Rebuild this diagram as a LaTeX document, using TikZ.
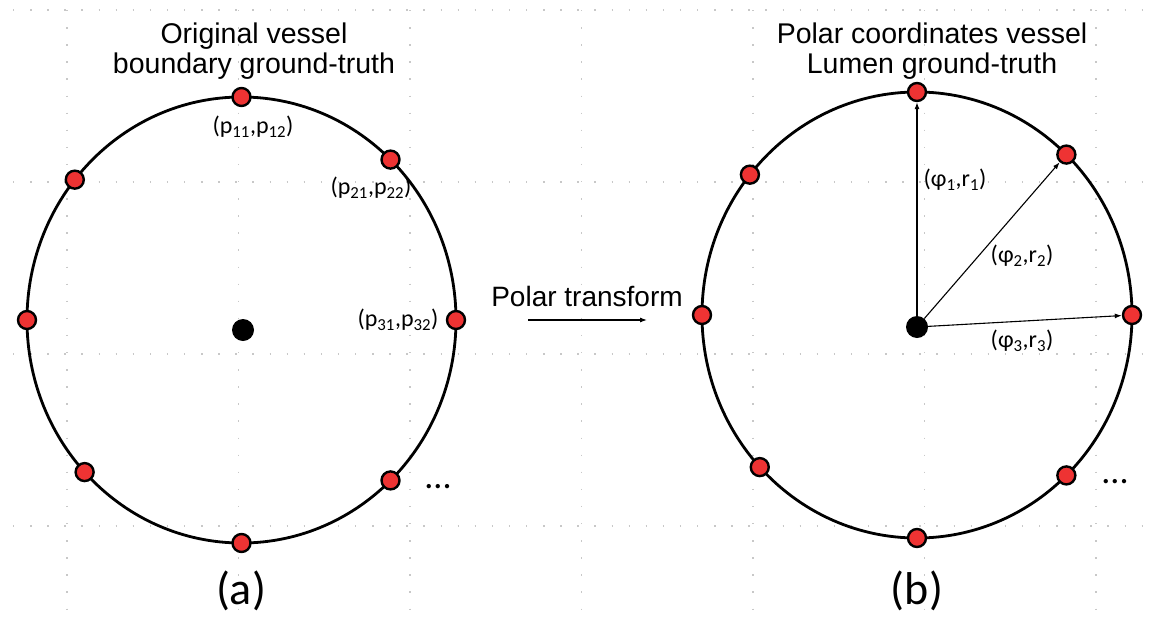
\documentclass[tikz,border=0pt]{standalone}
\usepackage{fontspec}
\setmainfont{Liberation Sans}
\newfontfamily\lblfont{Carlito}
\usetikzlibrary{arrows.meta}
\definecolor{ptred}{HTML}{EE3333}
\definecolor{gridgrey}{HTML}{C8C8C8}

\begin{document}
\begin{tikzpicture}[x=1pt,y=-1pt,
    >={Latex[length=7pt,width=5pt]},
    rim/.style={draw=black,line width=2.8pt},
    pt/.style={circle,draw=black,line width=2.4pt,fill=ptred,minimum size=18pt,inner sep=0pt},
    ctr/.style={circle,fill=black,minimum size=22pt,inner sep=0pt},
    ttl/.style={font=\fontsize{28.5}{30}\selectfont,align=center,inner sep=0pt,anchor=north},
    lbl/.style={font=\lblfont\fontsize{24}{26}\selectfont,inner sep=0pt},
    tag/.style={font=\lblfont\fontsize{46}{50}\selectfont,inner sep=0pt},
    grd/.style={gridgrey,line width=1.4pt,dash pattern=on 1.4pt off 15.7pt}]

  \fill[white] (0,0) rectangle (1153,616);
  \useasboundingbox (0,0) rectangle (1153,616);

  % ---------------- faint dotted grid behind everything
  \foreach \gx in {67,238.5,410,581.5,753,924.5,1096}
    \draw[grd] (\gx,10) -- (\gx,616);
  \foreach \gy in {10,182,354,526}
    \draw[grd] (13,\gy) -- (1153,\gy);

  % ---------------- left panel: boundary points
  \node[ttl] (ta) at (254,22.6) {Original vessel\\boundary ground-truth};
  \draw[rim] (241.5,320) ellipse [x radius=214.5, y radius=223];
  \foreach \a [count=\i] in {90,46,0,-46,-90,-137,180,141}
    \node[pt] (a\i) at ([shift={(\a:214.5 and -223)}] 241.5,320) {};
  \node[ctr] (oa) at (243,330) {};

  \node[lbl] (pa1) at (253,127) {(p\textsubscript{11},p\textsubscript{12})};
  \node[lbl] (pa2) at (371,188) {(p\textsubscript{21},p\textsubscript{22})};
  \node[lbl] (pa3) at (398,320) {(p\textsubscript{31},p\textsubscript{32})};
  \node[lbl,font=\lblfont\fontsize{36}{40}\selectfont] (da) at (438,487) {...};
  \node[tag] (sa) at (241,591) {(a)};

  % ---------------- middle: the transform
  \node[inner sep=0pt,font=\fontsize{28}{30}\selectfont] (tf) at (587,296) {Polar transform};
  \coordinate (tf0) at (528,320);
  \coordinate (tf1) at (647,320);
  \draw[->,line width=1.1pt] (tf0) -- (tf1);

  % ---------------- right panel: polar points
  \node[ttl] (tb) at (932,22.6) {Polar coordinates vessel\\Lumen ground-truth};
  \draw[rim] (917,315) ellipse [x radius=215, y radius=223];
  \foreach \a [count=\i] in {90,46,0,-46,-90,-137,180,141}
    \node[pt] (b\i) at ([shift={(\a:215 and -223)}] 917,315) {};
  \node[ctr] (ob) at (917,327) {};

  \draw[->,line width=1.1pt] (ob) -- (b1);
  \draw[->,line width=1.1pt] (ob) -- (b2);
  \draw[->,line width=1.1pt] (ob) -- (b3);

  \node[lbl] (pb1) at (955,180) {(φ\textsubscript{1},r\textsubscript{1})};
  \node[lbl] (pb2) at (1022,256) {(φ\textsubscript{2},r\textsubscript{2})};
  \node[lbl] (pb3) at (1022,341) {(φ\textsubscript{3},r\textsubscript{3})};
  \node[lbl,font=\lblfont\fontsize{36}{40}\selectfont] (db) at (1115,482) {...};
  \node[tag] (sb) at (917,591) {(b)};
\end{tikzpicture}
\end{document}
